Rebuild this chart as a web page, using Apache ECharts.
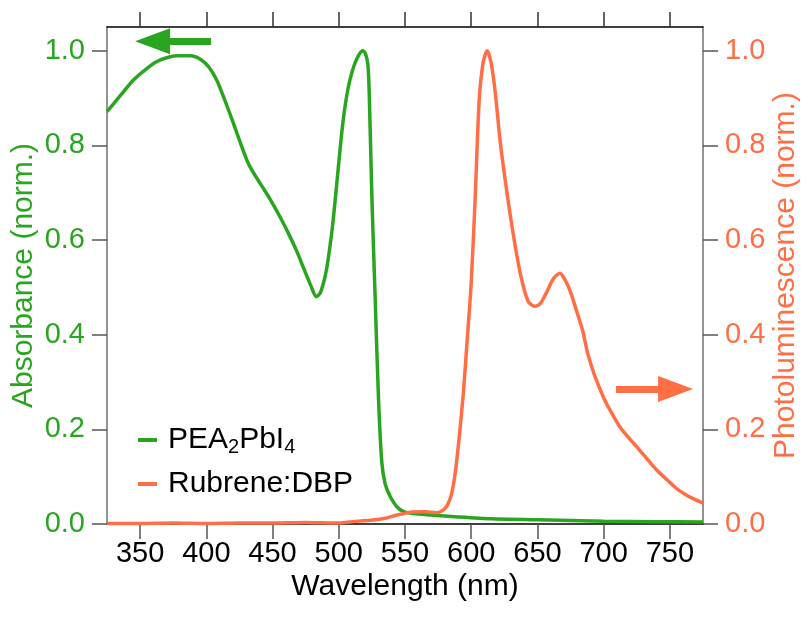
<!DOCTYPE html>
<html lang="en" style="height: 100%">
<head>
  <meta charset="utf-8">
  <script src="https://cdn.jsdelivr.net/npm/echarts@6/dist/echarts.min.js"></script>
</head>
<body style="height: 100%; margin: 0; background: #fff">
  <div id="container" style="width: 810px; height: 617px"></div>
  <script type="text/javascript">
    // absorbance of PEA2PbI4 (left axis)
    var absWavelength = [325, 335, 345, 355, 362, 370, 378, 388, 396, 402, 408, 414, 420, 426, 431, 436, 441, 448, 456, 462,
      468, 474, 479, 483, 486, 489, 491, 494, 496, 498, 500, 502, 504, 507, 510, 514, 518, 520, 522, 523, 525, 527.5, 530,
      532.5, 535, 539, 544, 549, 556, 570, 590, 615, 650, 700, 740, 775];
    var absorbance = [0.871, 0.905, 0.938, 0.962, 0.976, 0.985, 0.989, 0.989, 0.981, 0.965, 0.937, 0.895, 0.850, 0.803, 0.766,
      0.740, 0.718, 0.687, 0.647, 0.614, 0.578, 0.537, 0.503, 0.480, 0.488, 0.515, 0.542, 0.600, 0.648, 0.705, 0.763, 0.820,
      0.868, 0.920, 0.955, 0.985, 1.000, 0.995, 0.970, 0.910, 0.690, 0.475, 0.265, 0.130, 0.085, 0.057, 0.036, 0.026, 0.022,
      0.019, 0.015, 0.011, 0.009, 0.006, 0.005, 0.004];

    // photoluminescence of Rubrene:DBP (right axis)
    var plWavelength = [325, 350, 375, 400, 425, 450, 475, 498, 510, 524, 535, 544, 554, 565, 574, 579, 582, 585, 588, 591,
      594, 597, 600, 603, 606, 609, 612, 615, 618, 622, 626, 631, 637, 643, 648, 652, 657, 662, 667, 671, 675, 679, 684, 688,
      693, 698, 702, 708, 712, 718, 725, 732, 740, 748, 755, 762, 768, 775];
    var photoluminescence = [0.001, 0.001, 0.002, 0.001, 0.002, 0.002, 0.003, 0.002, 0.005, 0.008, 0.012, 0.019, 0.025, 0.026,
      0.024, 0.030, 0.040, 0.062, 0.110, 0.185, 0.275, 0.390, 0.510, 0.690, 0.895, 0.975, 1.000, 0.975, 0.915, 0.805, 0.720,
      0.625, 0.530, 0.470, 0.460, 0.465, 0.490, 0.518, 0.530, 0.515, 0.490, 0.455, 0.410, 0.360, 0.315, 0.280, 0.255, 0.225,
      0.206, 0.185, 0.163, 0.140, 0.114, 0.093, 0.075, 0.062, 0.053, 0.044];

    var xTicks = [350, 400, 450, 500, 550, 600, 650, 700, 750];
    var yTicks = [0, 0.2, 0.4, 0.6, 0.8, 1.0];

    // arrows telling which axis belongs to which curve: [from, to] in data units
    var absArrow = [[403.5, 1.02], [359.4, 1.02]];
    var plArrow = [[709.3, 0.285], [754.3, 0.285]];

    var green = '#2aa51f';
    var orange = '#ff6e45';
    var font = '"Liberation Sans", Arial, sans-serif';

    function zip(xs, ys) { return xs.map((x, i) => [x, ys[i]]); }

    var myChart = echarts.init(document.getElementById('container'), null, { renderer: 'canvas' });

    function yAxisCfg(pos, color, name, gap) {
      return {
        type: 'value', position: pos, min: 0, max: 1.05,
        name: name, nameLocation: 'middle', nameGap: gap, nameMoveOverlap: false,
        nameTextStyle: { color: color, fontSize: 30, fontFamily: font },
        axisLine: { show: true, onZero: false, lineStyle: { color: '#707070', width: 1.5 } },
        axisTick: { show: true, inside: false, length: 15, customValues: yTicks, lineStyle: { color: '#555', width: 1.5 } },
        axisLabel: { show: true, margin: 22, color: color, fontSize: 29, fontFamily: font, customValues: yTicks,
          formatter: v => v.toFixed(1) },
        splitLine: { show: false }
      };
    }

    var option = {
      animation: false,
      backgroundColor: '#fff',
      grid: { left: 107, right: 107, top: 27, bottom: 93, containLabel: false, outerBoundsMode: 'none' },
      legend: {
        orient: 'vertical', left: 133, top: 418, itemGap: 10,
        icon: 'rect', itemWidth: 19, itemHeight: 4,
        textStyle: {
          color: '#000', fontSize: 30, fontFamily: font, lineHeight: 34,
          rich: {
            sp: { width: 6, lineHeight: 34 },
            n: { fontSize: 30, fontFamily: font, color: '#000', lineHeight: 34 },
            s: { fontSize: 20, fontFamily: font, color: '#000', verticalAlign: 'bottom', lineHeight: 20 }
          }
        },
        formatter: function (name) {
          return name === 'PEA2PbI4' ? '{sp|}{n|PEA}{s|2}{n|PbI}{s|4}' : '{sp|}{n|' + name + '}';
        }
      },
      xAxis: [{
        type: 'value', position: 'bottom', min: 325, max: 775,
        name: 'Wavelength (nm)', nameLocation: 'middle', nameGap: 48, nameMoveOverlap: false,
        nameTextStyle: { color: '#000', fontSize: 30, fontFamily: font },
        axisLine: { show: true, onZero: false, lineStyle: { color: '#000', width: 1.5 } },
        axisTick: { show: true, inside: false, length: 15, customValues: xTicks, lineStyle: { color: '#555', width: 1.5 } },
        axisLabel: { margin: 15, color: '#000', fontSize: 29, fontFamily: font, customValues: xTicks },
        splitLine: { show: false }
      }, {
        type: 'value', position: 'top', min: 325, max: 775,
        axisLine: { show: true, onZero: false, lineStyle: { color: '#000', width: 1.5 } },
        axisTick: { show: true, inside: false, length: 15, customValues: xTicks, lineStyle: { color: '#333', width: 1.5 } },
        axisLabel: { show: false },
        splitLine: { show: false }
      }],
      yAxis: [
        yAxisCfg('left', green, 'Absorbance (norm.)', 68),
        yAxisCfg('right', orange, 'Photoluminescence (norm.)', 68)
      ],
      series: [{
        name: 'PEA2PbI4', type: 'line', xAxisIndex: 0, yAxisIndex: 0,
        data: zip(absWavelength, absorbance),
        smooth: 0.25, showSymbol: false, lineStyle: { color: green, width: 3.5 }, itemStyle: { color: green },
        markLine: {
          silent: true, symbol: ['none', 'triangle'], symbolSize: [26, 35], label: { show: false },
          lineStyle: { color: green, width: 7, type: 'solid' }, itemStyle: { color: green },
          data: [[{ coord: absArrow[0] }, { coord: absArrow[1] }]]
        }
      }, {
        name: 'Rubrene:DBP', type: 'line', xAxisIndex: 0, yAxisIndex: 1,
        data: zip(plWavelength, photoluminescence),
        smooth: 0.25, showSymbol: false, lineStyle: { color: orange, width: 3.5 }, itemStyle: { color: orange },
        markLine: {
          silent: true, symbol: ['none', 'triangle'], symbolSize: [26, 35], label: { show: false },
          lineStyle: { color: orange, width: 7, type: 'solid' }, itemStyle: { color: orange },
          data: [[{ coord: plArrow[0] }, { coord: plArrow[1] }]]
        }
      }]
    };

    myChart.setOption(option);
    window.addEventListener('resize', myChart.resize);
  </script>
</body>
</html>
